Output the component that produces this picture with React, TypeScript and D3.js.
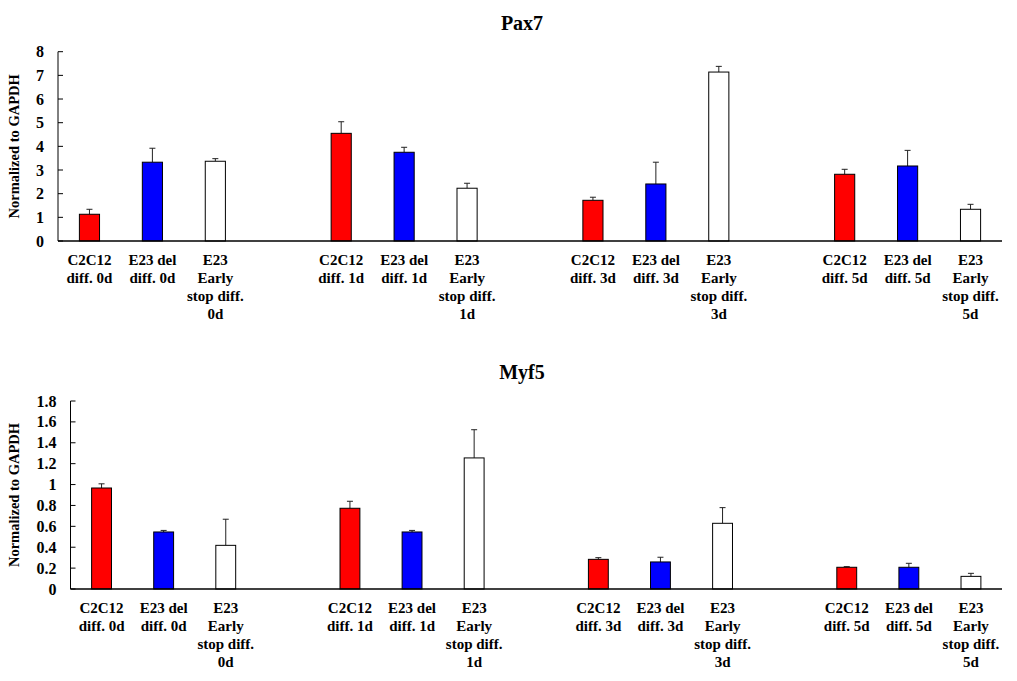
import React from 'react';
import * as d3 from 'd3';

// timepoints of differentiation
const timepoints = ['0d', '1d', '3d', '5d'];

// series (bar order inside each group)
const seriesNames = ['C2C12', 'E23 del', 'E23 Early stop'];
const seriesColors = ['#ff0000', '#0000ff', '#ffffff'];

// Pax7 values and errors per series, one per timepoint
const pax7C2C12 = [1.13, 4.55, 1.72, 2.82];
const pax7E23Del = [3.33, 3.75, 2.41, 3.17];
const pax7E23Early = [3.37, 2.23, 7.14, 1.34];
const pax7C2C12Err = [0.21, 0.49, 0.13, 0.21];
const pax7E23DelErr = [0.59, 0.21, 0.92, 0.66];
const pax7E23EarlyErr = [0.11, 0.21, 0.24, 0.21];

// Myf5 values and errors
const myf5C2C12 = [0.967, 0.773, 0.284, 0.208];
const myf5E23Del = [0.546, 0.546, 0.259, 0.208];
const myf5E23Early = [0.418, 1.255, 0.629, 0.121];
const myf5C2C12Err = [0.04, 0.067, 0.016, 0.006];
const myf5E23DelErr = [0.015, 0.015, 0.045, 0.038];
const myf5E23EarlyErr = [0.25, 0.27, 0.15, 0.029];

const pax7Ticks = [0, 1, 2, 3, 4, 5, 6, 7, 8];
const myf5Ticks = [0, 0.2, 0.4, 0.6, 0.8, 1, 1.2, 1.4, 1.6, 1.8];

const textStyle = { fontFamily: 'Liberation Serif, serif', fontWeight: 'bold' as const };

function labelLines(series: number, tp: string): string[] {
  if (series === 0) return ['C2C12', `diff. ${tp}`];
  if (series === 1) return ['E23 del', `diff. ${tp}`];
  return ['E23', 'Early', 'stop diff.', tp];
}

type PanelProps = {
  title: string;
  titleY: number;
  values: number[][];
  errors: number[][];
  ticks: number[];
  yMax: number;
  x0: number;
  x1: number;
  yTop: number;
  yBottom: number;
};

function Panel({ title, titleY, values, errors, ticks, yMax, x0, x1, yTop, yBottom }: PanelProps) {
  // 4 groups of 3 bars separated by one empty slot -> 15 slots
  const slots = d3.range(timepoints.length * 4 - 1);
  const x = d3.scaleBand<number>().domain(slots).range([x0, x1]).padding(0);
  const y = d3.scaleLinear().domain([0, yMax]).range([yBottom, yTop]);
  const barW = x.bandwidth() * 0.32;

  const bars: { slot: number; s: number; t: number; v: number; e: number }[] = [];
  timepoints.forEach((tp, t) => {
    seriesNames.forEach((_, s) => {
      bars.push({ slot: t * 4 + s, s, t, v: values[s][t], e: errors[s][t] });
    });
  });

  const cx = (slot: number) => (x(slot) as number) + x.bandwidth() / 2;
  const yMid = (yTop + yBottom) / 2;

  return (
    <g>
      <text x={522} y={titleY} textAnchor="middle" style={{ ...textStyle, fontSize: 20 }}>
        {title}
      </text>
      <text
        transform={`translate(19,${yMid}) rotate(-90)`}
        textAnchor="middle"
        style={{ ...textStyle, fontSize: 14.5 }}
      >
        Normalized to GAPDH
      </text>
      {/* y axis */}
      <line x1={x0} x2={x0} y1={y(yMax)} y2={yBottom} stroke="#000" strokeWidth={1} />
      {ticks.map(tk => (
        <g key={tk}>
          <line x1={x0} x2={x0 + 5} y1={y(tk)} y2={y(tk)} stroke="#000" strokeWidth={1} />
          <text x={x0 - 14} y={y(tk)} dy="0.35em" textAnchor="end" style={{ ...textStyle, fontSize: 16 }}>
            {String(tk)}
          </text>
        </g>
      ))}
      {/* bars */}
      {bars.map(b => (
        <g key={b.slot}>
          <line x1={cx(b.slot)} x2={cx(b.slot)} y1={y(b.v)} y2={y(b.v + b.e)} stroke="#222" strokeWidth={1} />
          <line
            x1={cx(b.slot) - 3}
            x2={cx(b.slot) + 3}
            y1={y(b.v + b.e)}
            y2={y(b.v + b.e)}
            stroke="#222"
            strokeWidth={1}
          />
          <rect
            x={cx(b.slot) - barW / 2}
            y={y(b.v)}
            width={barW}
            height={yBottom - y(b.v)}
            fill={seriesColors[b.s]}
            stroke="#000"
            strokeWidth={1}
          />
          <text textAnchor="middle" style={{ ...textStyle, fontSize: 15 }}>
            {labelLines(b.s, timepoints[b.t]).map((ln, i) => (
              <tspan key={i} x={cx(b.slot)} y={yBottom + 24 + i * 18}>
                {ln}
              </tspan>
            ))}
          </text>
        </g>
      ))}
      {/* x axis */}
      <line x1={x0} x2={x1} y1={yBottom} y2={yBottom} stroke="#000" strokeWidth={1.5} />
    </g>
  );
}

export default function App() {
  return (
    <svg
      width={1017}
      height={681}
      style={{ position: 'absolute', left: 0, top: 0, background: '#fff' }}
    >
      <rect width={1017} height={681} fill="#fff" />
      <Panel
        title="Pax7"
        titleY={30}
        values={[pax7C2C12, pax7E23Del, pax7E23Early]}
        errors={[pax7C2C12Err, pax7E23DelErr, pax7E23EarlyErr]}
        ticks={pax7Ticks}
        yMax={8}
        x0={58}
        x1={1002}
        yTop={51.7}
        yBottom={241}
      />
      <Panel
        title="Myf5"
        titleY={379}
        values={[myf5C2C12, myf5E23Del, myf5E23Early]}
        errors={[myf5C2C12Err, myf5E23DelErr, myf5E23EarlyErr]}
        ticks={myf5Ticks}
        yMax={1.8}
        x0={70.5}
        x1={1002}
        yTop={401}
        yBottom={589}
      />
    </svg>
  );
}
